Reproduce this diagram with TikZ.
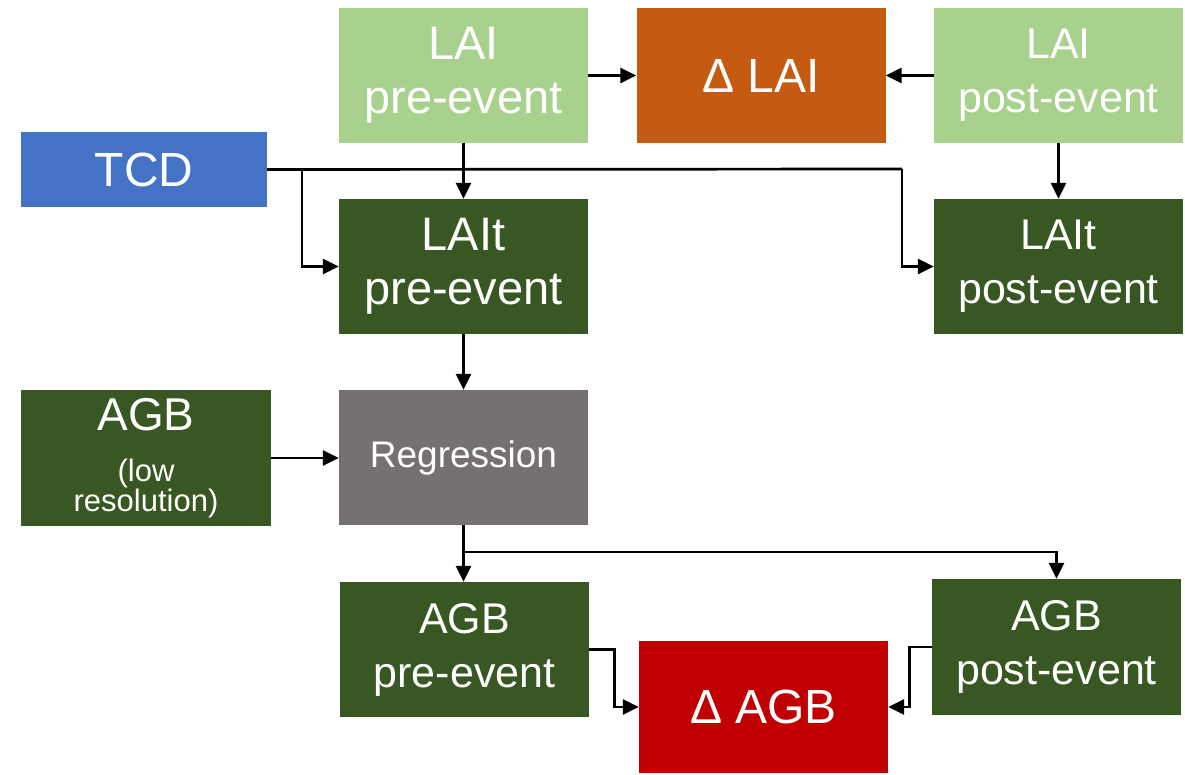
\documentclass[tikz,border=0pt]{standalone}
\usepackage{fontspec}
\setmainfont{Liberation Sans}
\usepackage{tikz}
\usetikzlibrary{arrows.meta,positioning,calc}
\definecolor{lightleaf}{HTML}{A9D18E}
\definecolor{darkleaf}{HTML}{385723}
\definecolor{rust}{HTML}{C55A11}
\definecolor{tcdblue}{HTML}{4472C4}
\definecolor{stone}{HTML}{767171}
\definecolor{alarm}{HTML}{C00000}

\begin{document}
\begin{tikzpicture}[x=1pt, y=-1pt,
  box/.style={text=white, align=center, inner sep=0pt, minimum width=249pt, minimum height=135pt,
    font=\fontsize{43}{54}\selectfont},
  flow/.style={line width=2.7pt, -{Triangle[length=16pt,width=15pt]}},
  wire/.style={line width=2.7pt}]
\useasboundingbox (0,0) rectangle (1185,774);
% LAI row
\node[box, fill=lightleaf, font=\fontsize{47}{54}\selectfont] (laipre) at (463.5,75.5) {LAI\\pre-event};
\node[box, fill=rust, font=\fontsize{48}{54}\selectfont] (dlai) at (761,75.5) {Δ LAI};
\node[box, fill=lightleaf] (laipost) at (1058.5,75.5) {LAI\\post-event};
% TCD
\node[box, fill=tcdblue, minimum width=246pt, minimum height=75pt, font=\fontsize{48}{54}\selectfont] (tcd) at (144,169.5) {TCD};
% LAIt row
\node[box, fill=darkleaf, font=\fontsize{47}{54}\selectfont] (laitpre) at (463.5,266.5) {LAIt\\pre-event};
\node[box, fill=darkleaf] (laitpost) at (1058.5,266.5) {LAIt\\post-event};
% Regression row
\node[box, fill=darkleaf, minimum width=250pt, minimum height=136pt, font=\fontsize{31}{27}\selectfont] (agblow) at (146,458)
  {{\fontsize{46}{46}\selectfont AGB}\\[24pt](low\\resolution)};
\node[box, fill=stone, font=\fontsize{37}{44}\selectfont] (regr) at (463.5,457.5) {Regression};
% AGB row
\node[box, fill=darkleaf] (agbpre) at (464.5,649.5) {AGB\\pre-event};
\node[box, fill=darkleaf, minimum height=136pt] (agbpost) at (1056.5,647) {AGB\\post-event};
\node[box, fill=alarm, minimum height=132pt, font=\fontsize{48}{54}\selectfont] (dagb) at (763.5,707) {Δ AGB};
% Connectors
\coordinate (tcdsplit) at (302,169);
\coordinate (tcdturn) at (902,169);
\coordinate (regsplit) at (463.5,552);
\draw[flow] (laipre.east) -- (dlai.west);
\draw[flow] (laipost.west) -- (dlai.east);
\draw[flow] (laipre.south) -- (laitpre.north);
\draw[flow] (laipost.south) -- (laitpost.north);
\draw[wire] (tcd.east) -- (tcdturn);
\draw[flow] (tcdsplit) |- (laitpre.west);
\draw[flow] (tcdturn) |- (laitpost.west);
\draw[flow] (laitpre.south) -- (regr.north);
\draw[flow] (agblow.east) -- (agblow.east -| regr.west);
\draw[flow] (regr.south) -- (regr.south |- agbpre.north);
\draw[flow] (regsplit) -| (agbpost.north);
\draw[flow] (agbpre.east) -- ++(25,0) |- (dagb.west);
\draw[flow] (agbpost.west) -- ++(-22,0) |- (dagb.east);
\end{tikzpicture}
\end{document}
